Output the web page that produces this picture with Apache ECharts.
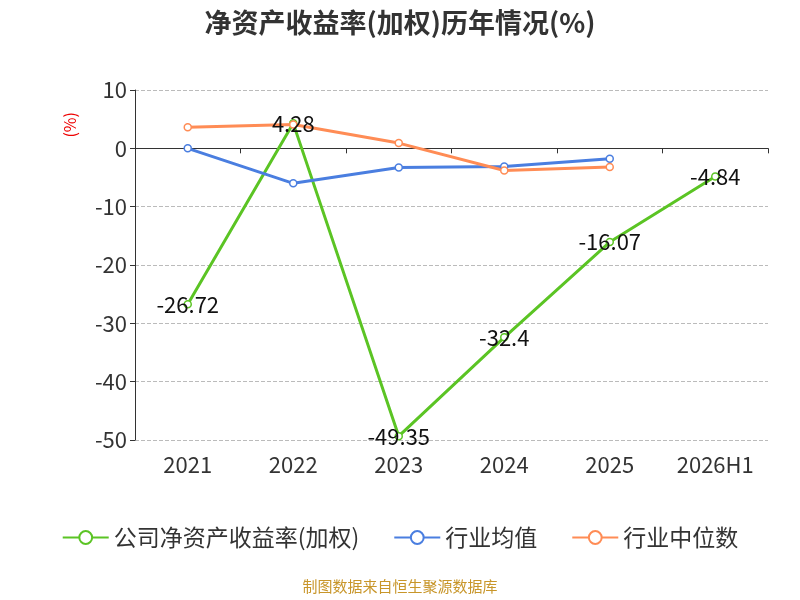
<!DOCTYPE html>
<html>
<head>
<meta charset="utf-8">
<script src="https://cdn.jsdelivr.net/npm/echarts@6/dist/echarts.min.js"></script>
</head>
<body style="margin:0">
<div id="main" style="width:800px;height:600px;"></div>
<script>
var years = ['2021', '2022', '2023', '2024', '2025', '2026H1'];
var company = [-26.72, 4.28, -49.35, -32.4, -16.07, -4.84];
var industryAvg = [0, -6.0, -3.3, -3.1, -1.8, null];
var industryMedian = [3.6, 4.1, 0.9, -3.8, -3.2, null];

var chart = echarts.init(document.getElementById('main'));
var font = 'Noto Sans CJK SC';
chart.setOption({
  textStyle: { fontFamily: font },
  title: {
    text: '净资产收益率(加权)历年情况(%)', left: 'center', top: 4,
    textStyle: { fontSize: 27, fontWeight: 'bold', color: '#333', fontFamily: font }
  },
  graphic: [
    { type: 'text', left: 62, top: 112, rotation: Math.PI / 2,
      style: { text: '(%)', fill: '#e00', fontSize: 16, fontFamily: font } },
    { type: 'text', left: 'center', top: 579,
      style: { text: '制图数据来自恒生聚源数据库', fill: '#c8962a', fontSize: 15, fontFamily: font } }
  ],
  legend: {
    bottom: 46, itemWidth: 46, itemHeight: 16, itemGap: 34,
    textStyle: { fontSize: 23, color: '#333' },
    data: ['公司净资产收益率(加权)', '行业均值', '行业中位数']
  },
  grid: { left: 135, right: 32, top: 90, bottom: 160 },
  xAxis: [
    { type: 'category', data: years, axisLine: { onZero: true, lineStyle: { color: '#333' } },
      axisTick: { show: true, lineStyle: { color: '#333' } }, axisLabel: { show: false } },
    { type: 'category', data: years, position: 'bottom', axisLine: { show: false },
      axisTick: { show: false }, axisLabel: { fontSize: 22, color: '#333', margin: 14 } }
  ],
  yAxis: {
    type: 'value', min: -50, max: 10, interval: 10,
    axisLine: { show: true, lineStyle: { color: '#333' } },
    axisTick: { show: true },
    axisLabel: { fontSize: 22, color: '#333' },
    splitLine: { lineStyle: { type: 'dashed', color: '#bbb' } }
  },
  series: [
    { name: '公司净资产收益率(加权)', type: 'line', data: company, color: '#5bc424',
      symbol: 'circle', symbolSize: 7, itemStyle: { color: '#fff', borderColor: '#5bc424', borderWidth: 1.5 },
      lineStyle: { width: 3, color: '#5bc424' }, z: 3,
      label: { show: true, position: 'inside', fontSize: 22, color: '#111' } },
    { name: '行业均值', type: 'line', data: industryAvg, color: '#4a7ee0',
      symbol: 'circle', symbolSize: 7, itemStyle: { color: '#fff', borderColor: '#4a7ee0', borderWidth: 1.5 },
      lineStyle: { width: 3, color: '#4a7ee0' } },
    { name: '行业中位数', type: 'line', data: industryMedian, color: '#ff8c55',
      symbol: 'circle', symbolSize: 7, itemStyle: { color: '#fff', borderColor: '#ff8c55', borderWidth: 1.5 },
      lineStyle: { width: 3, color: '#ff8c55' } }
  ]
});
</script>
</body>
</html>
